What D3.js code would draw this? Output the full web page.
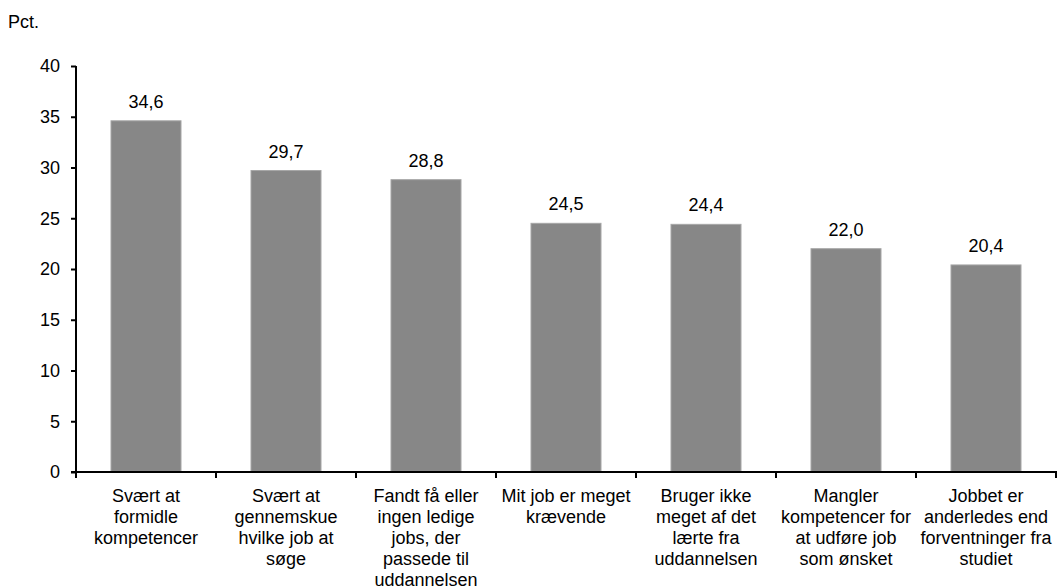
<!DOCTYPE html>
<html>
<head>
<meta charset="utf-8">
<script src="https://cdn.jsdelivr.net/npm/d3@7"></script>
<style>
body { margin: 0; background: #fff; }
text { font-family: "Liberation Sans", Arial, sans-serif; fill: #000; }
</style>
</head>
<body>
<script>
var categories = [
  "Svært at\nformidle\nkompetencer",
  "Svært at\ngennemskue\nhvilke job at\nsøge",
  "Fandt få eller\ningen ledige\njobs, der\npassede til\nuddannelsen",
  "Mit job er meget\nkrævende",
  "Bruger ikke\nmeget af det\nlærte fra\nuddannelsen",
  "Mangler\nkompetencer for\nat udføre job\nsom ønsket",
  "Jobbet er\nanderledes end\nforventninger fra\nstudiet"
];
var values = [34.6, 29.7, 28.8, 24.5, 24.4, 22.0, 20.4];
var yTicks = [0, 5, 10, 15, 20, 25, 30, 35, 40];

var width = 1057, height = 588;
var mLeft = 76, mRight = 1056, mTop = 66, mBottom = 472;
var fs = 18;

var svg = d3.select("body").append("svg").attr("width", width).attr("height", height);

var x = d3.scaleBand().domain(d3.range(categories.length)).range([mLeft, mRight]).paddingInner(0.5).paddingOuter(0.25);
var y = d3.scaleLinear().domain([0, 40]).range([mBottom, mTop]);

svg.append("text").attr("x", 8).attr("y", 28).attr("font-size", fs).text("Pct.");

svg.selectAll("rect.bar").data(values).enter().append("rect")
  .attr("class", "bar")
  .attr("x", function(d, i){ return x(i); })
  .attr("y", function(d){ return y(d); })
  .attr("width", x.bandwidth())
  .attr("height", function(d){ return mBottom - y(d); })
  .attr("fill", "#878787")
  .attr("stroke", "#a6a6a6")
  .attr("stroke-width", 1);

svg.selectAll("text.val").data(values).enter().append("text")
  .attr("class", "val")
  .attr("x", function(d, i){ return x(i) + x.bandwidth() / 2; })
  .attr("y", function(d){ return y(d) - 13; })
  .attr("text-anchor", "middle")
  .attr("font-size", fs)
  .text(function(d){ return d.toFixed(1).replace(".", ","); });

// y axis
var yAxis = svg.append("g").attr("transform", "translate(" + mLeft + ",0)")
  .call(d3.axisLeft(y).tickValues(yTicks).tickSize(5).tickPadding(11));
yAxis.select(".domain").attr("stroke", "#000").attr("stroke-width", 2).attr("d", "M0," + mTop + "V" + mBottom);
yAxis.selectAll(".tick line").attr("stroke", "#000").attr("stroke-width", 2);
yAxis.selectAll(".tick text").attr("font-size", fs).attr("font-family", "Liberation Sans, Arial, sans-serif").attr("fill", "#000");

// x axis
var bounds = d3.range(categories.length + 1).map(function(i){ return mLeft + i * x.step(); });
svg.append("line").attr("x1", mLeft - 5).attr("x2", mRight + 2).attr("y1", mBottom).attr("y2", mBottom)
  .attr("stroke", "#000").attr("stroke-width", 2);
svg.selectAll("line.xt").data(bounds).enter().append("line")
  .attr("class", "xt")
  .attr("x1", function(d){ return d; }).attr("x2", function(d){ return d; })
  .attr("y1", mBottom).attr("y2", mBottom + 6)
  .attr("stroke", "#000").attr("stroke-width", 2);

svg.selectAll("text.cat").data(categories).enter().append("text")
  .attr("class", "cat")
  .attr("text-anchor", "middle")
  .attr("font-size", fs)
  .each(function(d, i){
    var t = d3.select(this);
    d.split("\n").forEach(function(line, j){
      t.append("tspan")
        .attr("x", x(i) + x.bandwidth() / 2)
        .attr("y", 502 + j * 21)
        .text(line);
    });
  });
</script>
</body>
</html>
